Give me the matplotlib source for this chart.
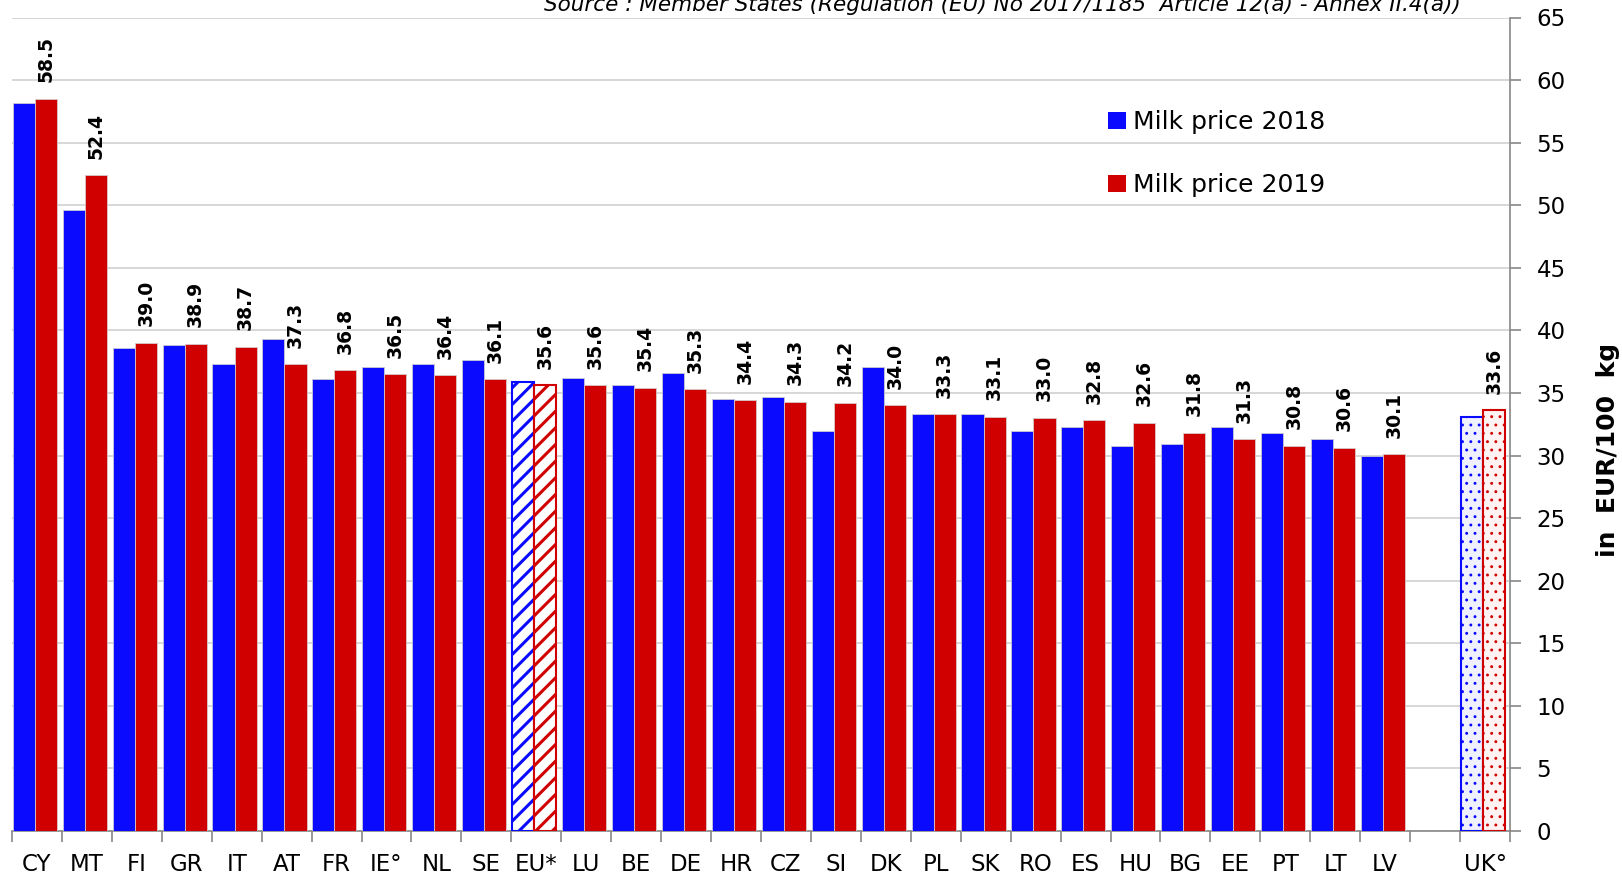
import numpy as np
import matplotlib
matplotlib.use("Agg")
import matplotlib.pyplot as plt

# Daten
countries = ['CY', 'MT', 'FI', 'GR', 'IT', 'AT', 'FR', 'IE°', 'NL', 'SE', 'EU*', 'LU', 'BE', 'DE',
             'HR', 'CZ', 'SI', 'DK', 'PL', 'SK', 'RO', 'ES', 'HU', 'BG', 'EE', 'PT', 'LT', 'LV', 'UK°']
price_2018 = [58.2, 49.6, 38.6, 38.8, 37.3, 39.3, 36.1, 37.1, 37.3, 37.6, 35.9, 36.2, 35.6, 36.6,
              34.5, 34.7, 32.0, 37.1, 33.3, 33.3, 32.0, 32.3, 30.8, 30.9, 32.3, 31.8, 31.3, 30.0, 33.1]
price_2019 = [58.5, 52.4, 39.0, 38.9, 38.7, 37.3, 36.8, 36.5, 36.4, 36.1, 35.6, 35.6, 35.4, 35.3,
              34.4, 34.3, 34.2, 34.0, 33.3, 33.1, 33.0, 32.8, 32.6, 31.8, 31.3, 30.8, 30.6, 30.1, 33.6]
yticks = list(range(0, 70, 5))
source = "Source : Member States (Regulation (EU) No 2017/1185  Article 12(a) - Annex II.4(a))"

blue = '#0a0aff'
red = '#d10000'

plt.rcParams['font.family'] = ['DejaVu Sans']
plt.rcParams['hatch.linewidth'] = 2.2

# Position: Luecke vor UK
xpos = np.array(list(range(len(countries) - 1)) + [len(countries)], dtype=float)
w = 0.442
off = -0.043

fig = plt.figure(figsize=(16.22, 8.74), dpi=100)
ax = fig.add_axes([12 / 1622, 1 - 831 / 874, (1510 - 12) / 1622, (831 - 17.5) / 874])

for i, c in enumerate(countries):
    x = xpos[i] + off
    if c == 'EU*':
        ax.bar(x - w / 2, price_2018[i], w, facecolor='white', edgecolor=blue, hatch='//', linewidth=1.5, zorder=3)
        ax.bar(x + w / 2, price_2019[i], w, facecolor='white', edgecolor=red, hatch='//', linewidth=1.5, zorder=3)
    elif c == 'UK°':
        with plt.rc_context({'hatch.linewidth': 0.9}):
            ax.bar(x - w / 2, price_2018[i], w, facecolor='#f0f1ff', edgecolor=blue, hatch='..', linewidth=1.5, zorder=3)
            ax.bar(x + w / 2, price_2019[i], w, facecolor='#fff2f2', edgecolor=red, hatch='..', linewidth=1.5, zorder=3)
    else:
        ax.bar(x - w / 2, price_2018[i], w, color=blue, edgecolor='#c8c8d8', linewidth=0.6, zorder=3)
        ax.bar(x + w / 2, price_2019[i], w, color=red, edgecolor='#d8c8c8', linewidth=0.6, zorder=3)
    ax.annotate('%.1f' % price_2019[i], (x + w / 2, price_2019[i]), xytext=(0, 12),
                textcoords='offset points', rotation=90, ha='center', va='bottom',
                fontsize=13.5, fontweight='bold', zorder=4)

# Legende
ax.bar([0], [0], 0, color=blue, label='Milk price 2018')
ax.bar([0], [0], 0, color=red, label='Milk price 2019')
ax.legend(loc='upper left', bbox_to_anchor=(1108 / 1622, 1 - 110 / 874), bbox_transform=fig.transFigure,
          frameon=False, fontsize=18, handlelength=0.7, handleheight=0.7, handletextpad=0.3,
          labelspacing=1.57, borderpad=0, borderaxespad=0)

ax.set_xlim(-0.5, len(countries) + 0.5)
ax.set_ylim(0, 65)
ax.yaxis.tick_right()
ax.set_yticks(yticks)
ax.tick_params(axis='y', labelsize=16.5, length=8, color='#888888', pad=11, width=1.2)
ax.grid(axis='y', color='#d4d4d4', linewidth=1.3, zorder=0)
ax.set_axisbelow(True)

ax.set_xticks(xpos)
ax.set_xticklabels(countries, fontsize=16.5)
ax.tick_params(axis='x', which='major', length=0, pad=16)
ax.set_xticks(np.arange(-0.5, len(countries) + 1, 1.0), minor=True)
ax.tick_params(axis='x', which='minor', length=8, color='#888888', width=1.2)

for s in ['top', 'left']:
    ax.spines[s].set_visible(False)
ax.spines['bottom'].set_color('#888888')
ax.spines['right'].set_color('#888888')
ax.spines['bottom'].set_linewidth(1.2)
ax.spines['right'].set_linewidth(1.2)

fig.text(1608 / 1622, 1 - 450 / 874, 'in  EUR/100  kg', rotation=90, ha='center', va='center',
         fontsize=18, fontweight='bold')

fig.text(1002 / 1622, 1 - 11 / 874, source, ha='center', va='baseline', fontsize=15.5,
         style='italic')

plt.savefig('out.png', dpi=100)
